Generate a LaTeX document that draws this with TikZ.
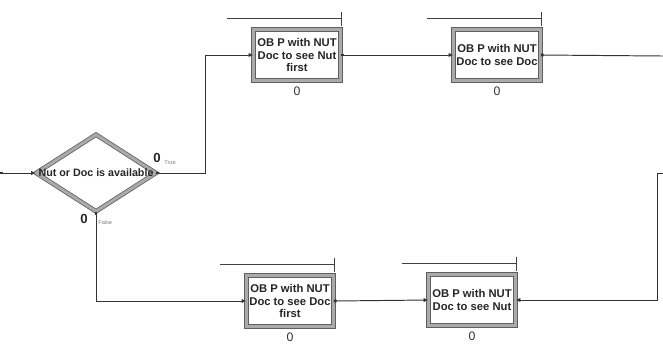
\documentclass[tikz,border=0pt]{standalone}
\usepackage{fontspec}
\setmainfont{Liberation Sans}
\usetikzlibrary{arrows.meta,shapes.geometric,positioning}
\definecolor{frameout}{RGB}{95,95,95}
\definecolor{frameband}{RGB}{170,170,170}

\begin{document}
\begin{tikzpicture}[
    x=0.02cm, y=-0.02cm,
    flow/.style={draw=black!80, line width=0.55pt, {Square[length=1.6pt,width=1.6pt]}-{Latex[length=2.6pt,width=2.6pt]}},
    wire/.style={draw=black!80, line width=0.55pt},
    proc/.style={rectangle, draw=frameout, line width=0.45pt, double=frameband, double distance=1.7pt,
      fill=white, minimum width=1.74cm, minimum height=1.02cm, inner sep=1pt, align=center,
      text=black!85, font=\fontsize{6.4}{6.9}\selectfont\bfseries},
    decide/.style={diamond, draw=frameout, line width=0.45pt, double=frameband, double distance=1.7pt,
      fill=white, minimum width=2.4cm, minimum height=1.54cm, inner sep=0pt},
    dtext/.style={font=\fontsize{6.1}{7}\selectfont\bfseries, text=black!85, inner sep=0pt},
    queue/.style={draw=black!75, line width=0.5pt, -{Bar[width=0.28cm,line width=0.7pt]}},
    count/.style={font=\fontsize{7}{8}\selectfont, text=black!80, inner sep=1pt},
    bigcount/.style={font=\fontsize{7.5}{8}\selectfont\bfseries, text=black!85, inner sep=0pt},
    branch/.style={font=\fontsize{3.2}{4}\selectfont, text=black!50, inner sep=0pt},
  ]
  \useasboundingbox (0,0) rectangle (663,343);

  %% ================= the decision =================
  \coordinate (inA) at (0,173);
  \node[decide] (cond) at (96,173) {};
  \node[dtext] (condtxt) at (cond.center) {Nut or Doc is available};
  \draw[flow] (inA) -- (cond.west);

  \node[bigcount] (ctrue) at (157,158) {0};
  \node[branch, anchor=west] (ltrue) at (164,163) {True};
  \node[bigcount] (cfalse) at (84,219) {0};
  \node[branch, anchor=west] (lfalse) at (98,222) {False};

  %% ================= the four processes =================
  \node[proc] (b1) at (297,55)  {OB P with NUT\\Doc to see Nut\\first};
  \node[proc] (b2) at (497,55)  {OB P with NUT\\Doc to see Doc};
  \node[proc] (b3) at (290,301) {OB P with NUT\\Doc to see Doc\\first};
  \node[proc] (b4) at (472,300) {OB P with NUT\\Doc to see Nut};

  % queue bar above and counter below each process
  \foreach \b in {b1,b2,b3,b4} {
    \draw[queue] ([xshift=-0.52cm,yshift=0.21cm]\b.north west) -- ([xshift=0.03cm,yshift=0.21cm]\b.north east);
    \node[count, below=0.08cm of \b] (\b-n) {0};
  }

  %% ================= connectors =================
  \coordinate (tj) at (205,173);
  \coordinate (outA) at (663,56);
  \coordinate (inB) at (663,173);
  \coordinate (rj) at (657,173);

  \draw[flow] (cond.east) -- (tj) |- (b1.west);
  \draw[flow] (b1.east) -- (b2.west);
  \draw[wire, {Square[length=1.6pt,width=1.6pt]}-] (b2.east) -- (outA);

  \draw[flow] (cond.south) |- (b3.west);
  \draw[flow] (b3.east) -- (b4.west);
  \draw[wire, -{Latex[length=2.6pt,width=2.6pt]}] (inB) -- (rj) |- (b4.east);

\end{tikzpicture}
\end{document}
